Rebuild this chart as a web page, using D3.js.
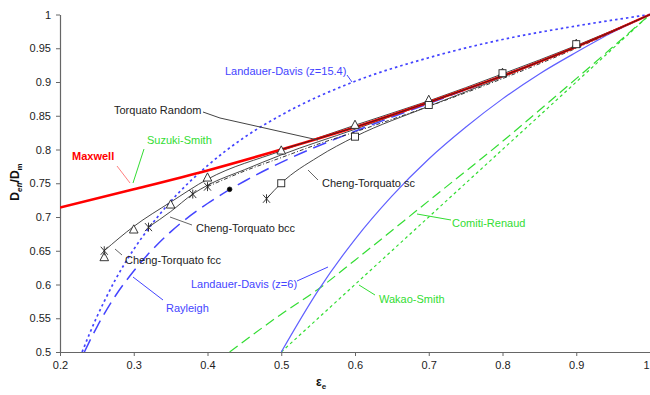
<!DOCTYPE html>
<html><head><meta charset="utf-8">
<script src="https://cdn.jsdelivr.net/npm/d3@7"></script>
<style>body{margin:0;background:#fff}svg{display:block}text{font-family:"Liberation Sans",Arial,sans-serif}</style>
</head><body><svg id="c" width="650" height="395"></svg>
<script>
const xTicks=[0.2,0.3,0.4,0.5,0.6,0.7,0.8,0.9,1];
const xTickLabels=["0.2","0.3","0.4","0.5","0.6","0.7","0.8","0.9","1"];
const yTicks=[0.5,0.55,0.6,0.65,0.7,0.75,0.8,0.85,0.9,0.95,1];
const yTickLabels=["0.5","0.55","0.6","0.65","0.7","0.75","0.8","0.85","0.9","0.95","1"];

const maxwellX=[0.2,0.3,0.4,0.5,0.6,0.7,0.8,0.9,1];
const maxwellY=[0.714,0.741,0.769,0.8,0.833,0.870,0.909,0.952,1];
const ld154X=[0.23,0.24,0.25,0.26,0.275,0.3,0.325,0.35,0.4,0.45,0.5,0.6,0.7,0.8,0.9,1];
const ld154Y=[0.5,0.527,0.552,0.575,0.607,0.652,0.690,0.723,0.776,0.818,0.851,0.901,0.936,0.963,0.983,1];
const ld6X=[0.5,0.55,0.6,0.65,0.7,0.75,0.8,0.85,0.9,0.95,1];
const ld6Y=[0.5,0.591,0.667,0.731,0.786,0.833,0.875,0.912,0.944,0.974,1];
const rayX=[0.233,0.25,0.275,0.3,0.35,0.4,0.45,0.5,0.6,0.7,0.8,0.9,1];
const rayY=[0.5,0.537,0.583,0.620,0.678,0.720,0.753,0.781,0.827,0.868,0.909,0.952,1];
const wakaoX=[0.5,0.6,0.7,0.8,0.9,1];
const wakaoY=[0.5,0.6,0.7,0.8,0.9,1];
const comitiX=[0.43,0.5,0.55,0.6,0.7,0.8,0.9,1];
const comitiY=[0.5,0.556,0.593,0.636,0.724,0.812,0.905,1];
const fccX=[0.26,0.3,0.35,0.4,0.5,0.6,0.7,0.8,0.9,1];
const fccY=[0.65,0.686,0.722,0.756,0.798,0.836,0.872,0.912,0.954,1];
const bccX=[0.32,0.35,0.38,0.4,0.45,0.5,0.6,0.7,0.8,0.9,1];
const bccY=[0.685,0.708,0.734,0.747,0.770,0.792,0.830,0.869,0.909,0.953,1];
const scX=[0.48,0.5,0.55,0.6,0.7,0.8,0.9,1];
const scY=[0.727,0.75,0.789,0.819,0.864,0.907,0.952,1];
const randX=[0.40,0.45,0.5,0.55,0.6,0.7,0.8,0.9,1];
const randY=[0.745,0.768,0.788,0.808,0.826,0.864,0.905,0.950,1];
const triX=[0.26,0.3,0.35,0.4,0.5,0.6,0.7,0.8,0.9];
const triY=[0.640,0.681,0.718,0.758,0.798,0.836,0.873,0.913,0.956];
const sqX=[0.5,0.6,0.7,0.8,0.9];
const sqY=[0.75,0.819,0.866,0.913,0.956];
const starX=[0.26,0.32,0.38,0.4,0.48];
const starY=[0.650,0.685,0.734,0.745,0.727];
const dotX=[0.43];
const dotY=[0.741];

const svg=d3.select("#c");
const x=d3.scaleLinear().domain([0.2,1]).range([60,650]);
const y=d3.scaleLinear().domain([0.5,1]).range([352,14.5]);
const zip=(a,b)=>a.map((v,i)=>[v,b[i]]);

svg.append("defs").append("clipPath").attr("id","pl").append("rect")
  .attr("x",60).attr("y",10).attr("width",592).attr("height",342);

// axes
const ya=svg.append("g").attr("transform","translate(60,0)")
  .call(d3.axisLeft(y).tickValues(yTicks).tickFormat((d,i)=>yTickLabels[i]).tickSize(4).tickSizeOuter(0));
const xa=svg.append("g").attr("transform","translate(0,352)")
  .call(d3.axisBottom(x).tickValues(xTicks).tickFormat((d,i)=>xTickLabels[i]).tickSize(4).tickSizeOuter(0));
[ya,xa].forEach(g=>{g.select(".domain").attr("stroke","#666").attr("stroke-width",1.2);
  g.selectAll(".tick line").attr("stroke","#666");
  g.selectAll("text").attr("font-size",11).attr("fill","#222").attr("font-family","Liberation Sans, Arial");});
ya.selectAll("text").attr("dx",-2);
xa.selectAll("text").attr("dy","0.9em");
xa.selectAll(".tick text").filter(d=>d===1).attr("text-anchor","end").attr("dx",-1);

const pl=svg.append("g").attr("clip-path","url(#pl)");
const line=d3.line().x(d=>x(d[0])).y(d=>y(d[1])).curve(d3.curveMonotoneX);
function draw(X,Y,col,w,dash){pl.append("path").attr("d",line(zip(X,Y))).attr("fill","none")
  .attr("stroke",col).attr("stroke-width",w).attr("stroke-dasharray",dash||null);}

draw(wakaoX,wakaoY,"#33dd33",1.2,"3,3");
draw(comitiX,comitiY,"#33dd33",1.2,"10,5");
draw(ld6X,ld6Y,"#6060ff",1.2);
draw(ld154X,ld154Y,"#4444ff",1.7,"2.5,3");
draw(rayX,rayY,"#4444ff",1.5,"14,7");
draw(randX,randY,"#222",0.9,"4,2,1,2");
draw(scX,scY,"#333",0.9);
draw(bccX,bccY,"#333",0.9);
draw(fccX,fccY,"#333",0.9);
draw(maxwellX,maxwellY,"#ff0000",2.5);
draw(maxwellX.slice(3),maxwellY.slice(3),"#222",0.8);

// markers
const mk=svg.append("g").attr("fill","none").attr("stroke","#222").attr("stroke-width",0.9);
zip(triX,triY).forEach(d=>{const cx=x(d[0]),cy=y(d[1]);
  mk.append("path").attr("d",`M${cx},${cy-5}L${cx+4.3},${cy+3.2}L${cx-4.3},${cy+3.2}Z`).attr("fill","#fff");});
zip(sqX,sqY).forEach(d=>{const cx=x(d[0]),cy=y(d[1]);
  mk.append("rect").attr("x",cx-3.5).attr("y",cy-3.5).attr("width",7).attr("height",7).attr("fill","#fff");});
zip(starX,starY).forEach(d=>{const cx=x(d[0]),cy=y(d[1]);
  mk.append("path").attr("d",`M${cx-3.5},${cy-4}L${cx+3.5},${cy+4}M${cx+3.5},${cy-4}L${cx-3.5},${cy+4}M${cx},${cy-4.5}L${cx},${cy+4.5}`);});
zip(dotX,dotY).forEach(d=>{mk.append("circle").attr("cx",x(d[0])).attr("cy",y(d[1])).attr("r",2.3).attr("fill","#000");});

// annotations
const ann=[
 {t:"Maxwell",c:"#ff0000",x:72,y:160,b:true,lc:"#ff8080",l:[[117,166],[130,183]]},
 {t:"Suzuki-Smith",c:"#33dd33",x:147,y:144,lc:"#33dd33",l:[[144,149],[133,183]]},
 {t:"Torquato Random",c:"#222",x:114,y:114,lc:"#444",l:[[203,112],[220,118],[318,140]]},
 {t:"Landauer-Davis (z=15.4)",c:"#4444ff",x:225,y:75,lc:"#4444ff",l:[[347,75],[352,82]]},
 {t:"Cheng-Torquato sc",c:"#222",x:322,y:187,lc:"#666",l:[[318,180],[308,170]]},
 {t:"Cheng-Torquato bcc",c:"#222",x:196,y:232,lc:"#666",l:[[192,225],[170,217]]},
 {t:"Cheng-Torquato fcc",c:"#222",x:125,y:264,lc:"#666",l:[[122,255],[115,249]]},
 {t:"Landauer-Davis (z=6)",c:"#4444ff",x:191,y:288,lc:"#4444ff",l:[[297,281],[328,267]]},
 {t:"Rayleigh",c:"#4444ff",x:166,y:312,lc:"#4444ff",l:[[163,300],[133,277]]},
 {t:"Comiti-Renaud",c:"#33dd33",x:452,y:227,lc:"#33dd33",l:[[451,220],[417,214]]},
 {t:"Wakao-Smith",c:"#33dd33",x:379,y:303,lc:"#33dd33",l:[[375,295],[359,285]]}
];
ann.forEach(a=>{
  svg.append("path").attr("d",d3.line()(a.l)).attr("fill","none").attr("stroke",a.lc).attr("stroke-width",1);
  svg.append("text").attr("x",a.x).attr("y",a.y).attr("fill",a.c).attr("font-size",11)
    .attr("font-weight",a.b?"bold":"normal").text(a.t);
});

// axis titles
const yt=svg.append("text").attr("transform","translate(19,182) rotate(-90)").attr("text-anchor","middle")
  .attr("font-size",12).attr("font-weight","bold").attr("fill","#111");
yt.append("tspan").text("D");
yt.append("tspan").attr("font-size",8).attr("dy",3).attr("font-style","italic").text("eff");
yt.append("tspan").attr("dy",-3).text("/D");
yt.append("tspan").attr("font-size",8).attr("dy",3).text("m");
const xt=svg.append("text").attr("x",316).attr("y",386).attr("font-size",12).attr("font-weight","bold").attr("fill","#111");
xt.append("tspan").text("ε");
xt.append("tspan").attr("font-size",8).attr("dy",3).text("e");
</script></body></html>
